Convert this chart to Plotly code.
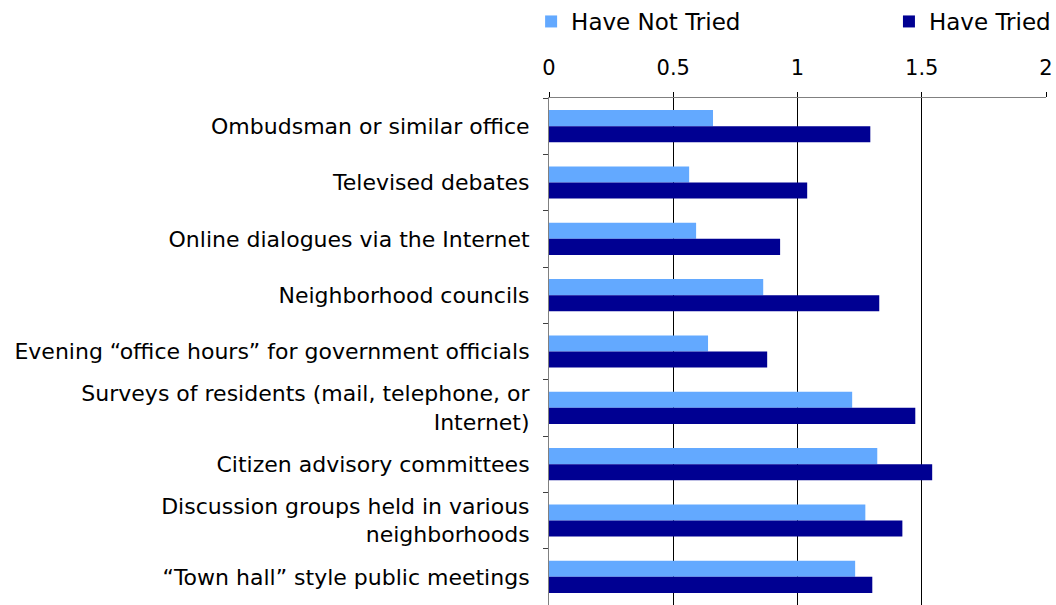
import plotly.graph_objects as go

categories = [
    "Ombudsman or similar office",
    "Televised debates",
    "Online dialogues via the Internet",
    "Neighborhood councils",
    "Evening \u201coffice hours\u201d for government officials",
    "Surveys of residents (mail, telephone, or<br>Internet)",
    "Citizen advisory committees",
    "Discussion groups held in various<br>neighborhoods",
    "\u201cTown hall\u201d style public meetings",
]
have_not_tried = [0.66, 0.564, 0.592, 0.862, 0.640, 1.220, 1.321, 1.273, 1.232]
have_tried = [1.293, 1.039, 0.930, 1.329, 0.878, 1.474, 1.542, 1.422, 1.301]
x_ticks = [0, 0.5, 1, 1.5, 2]
x_tick_labels = ["0", "0.5", "1", "1.5", "2"]

FONT = "DejaVu Sans, Verdana, sans-serif"

fig = go.Figure()
fig.add_trace(go.Bar(
    y=categories, x=have_not_tried, orientation="h",
    name="Have Not Tried", marker=dict(color="#63A9FF", line=dict(width=0)),
    legend="legend",
))
fig.add_trace(go.Bar(
    y=categories, x=have_tried, orientation="h",
    name="Have Tried", marker=dict(color="#000092", line=dict(width=0)),
    legend="legend2",
))

legend_common = dict(
    orientation="h", xanchor="left", y=1.0, yanchor="top",
    yref="container", font=dict(size=23, family=FONT),
    itemwidth=30, bgcolor="rgba(0,0,0,0)",
)

fig.update_layout(
    width=1056, height=605,
    margin=dict(l=549, r=10, t=98, b=0, autoexpand=False),
    paper_bgcolor="white", plot_bgcolor="white",
    barmode="group", bargap=0.43, bargroupgap=0,
    font=dict(family=FONT, size=22, color="black"),
    legend=dict(x=-0.036, **legend_common),
    legend2=dict(x=0.684, **legend_common),
    showlegend=True,
)
fig.update_xaxes(
    side="top", range=[0, 2], tickvals=x_ticks, ticktext=x_tick_labels,
    showgrid=True, gridcolor="black", gridwidth=1,
    showline=True, linecolor="#808080", linewidth=1,
    ticks="outside", ticklen=5, tickcolor="black",
    tickfont=dict(size=21, family=FONT), zeroline=False,
    ticklabelstandoff=9, automargin=False,
)
fig.update_yaxes(
    autorange="reversed", showline=True, linecolor="#808080", linewidth=1,
    ticks="outside", tickson="boundaries", ticklen=5, tickcolor="#404040",
    showgrid=False, tickfont=dict(size=22, family=FONT),
    ticklabelstandoff=14, automargin=False,
)

fig.write_html("out.html")
